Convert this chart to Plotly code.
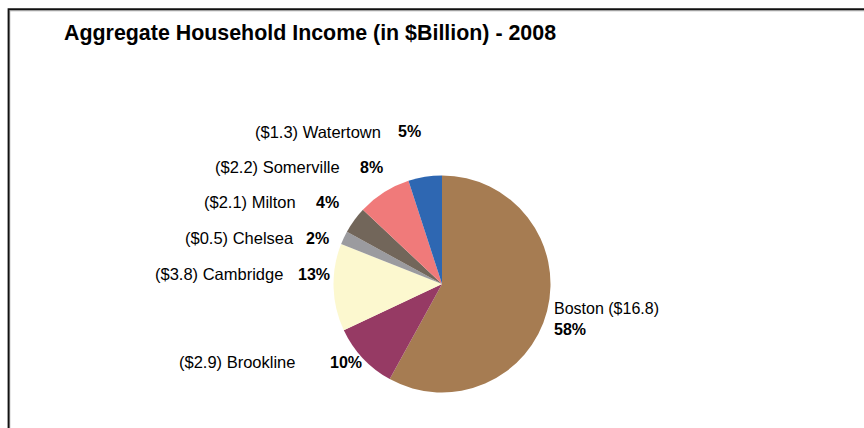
import plotly.graph_objects as go

# ---- data ----
towns = ["Boston", "Brookline", "Cambridge", "Chelsea", "Milton", "Somerville", "Watertown"]
income_billion = ["$16.8", "$2.9", "$3.8", "$0.5", "$2.1", "$2.2", "$1.3"]
share_pct = [58, 10, 13, 2, 4, 8, 5]
colors = ["#A67C52", "#963A64", "#FCF8CF", "#9B9B9F", "#72665A", "#F07A7A", "#2E67B2"]

W, H = 864, 428

def px(x):
    return x / W

def py(y):
    return 1 - y / H

fig = go.Figure(go.Pie(
    labels=towns,
    values=share_pct,
    sort=False,
    direction="clockwise",
    rotation=0,
    marker=dict(colors=colors, line=dict(width=0)),
    textinfo="none",
    hoverinfo="label+value",
    showlegend=False,
    domain=dict(x=[px(333.5), px(550.5)], y=[py(392.5), py(175.5)]),
))

font_family = "Liberation Sans, Arial, sans-serif"
annotations = []

# left-side labels: (name right edge, pct left edge, y center)
left_pos = {
    "Brookline": (297, 328, 362),
    "Cambridge": (285, 296, 274),
    "Chelsea": (296, 304, 238),
    "Milton": (298, 314, 202),
    "Somerville": (342, 358, 167),
    "Watertown": (383, 396, 132),
}
for t, inc, p in zip(towns, income_billion, share_pct):
    if t in left_pos:
        xr, xl, yc = left_pos[t]
        annotations.append(dict(
            x=px(xr), y=py(yc), xref="paper", yref="paper",
            text=f"({inc}) {t}", showarrow=False, xanchor="right", yanchor="middle",
            font=dict(family=font_family, size=16.5, color="#000000")))
        annotations.append(dict(
            x=px(xl), y=py(yc), xref="paper", yref="paper",
            text=f"<b>{p}%</b>", showarrow=False, xanchor="left", yanchor="middle",
            font=dict(family=font_family, size=16, color="#000000")))
    else:
        annotations.append(dict(
            x=px(552), y=py(318.5), xref="paper", yref="paper",
            text=f"{t} ({inc})<br><b>{p}%</b>", showarrow=False, xanchor="left",
            yanchor="middle", align="left",
            font=dict(family=font_family, size=16, color="#000000")))

# title
annotations.append(dict(
    x=px(62), y=py(33), xref="paper", yref="paper",
    text="<b>Aggregate Household Income (in $Billion) - 2008</b>",
    showarrow=False, xanchor="left", yanchor="middle",
    font=dict(family=font_family, size=21.4, color="#000000")))

shapes = [
    dict(type="path", xref="paper", yref="paper",
         path=f"M {px(9.5)},{py(440)} L {px(9.5)},{py(10.5)} L {px(880)},{py(10.5)}",
         line=dict(color="#A0A0A0", width=1.5)),
    dict(type="path", xref="paper", yref="paper",
         path=f"M {px(8.5)},{py(440)} L {px(8.5)},{py(9.2)} L {px(880)},{py(9.2)}",
         line=dict(color="#111111", width=1.8)),
]

fig.update_layout(
    width=W, height=H,
    margin=dict(l=0, r=0, t=0, b=0),
    paper_bgcolor="#FFFFFF",
    plot_bgcolor="#FFFFFF",
    annotations=annotations,
    shapes=shapes,
)

fig.write_html(
    "out.html",
    config={"displayModeBar": False},
    post_script="document.body.style.margin='0';document.body.style.overflow='hidden';",
)
